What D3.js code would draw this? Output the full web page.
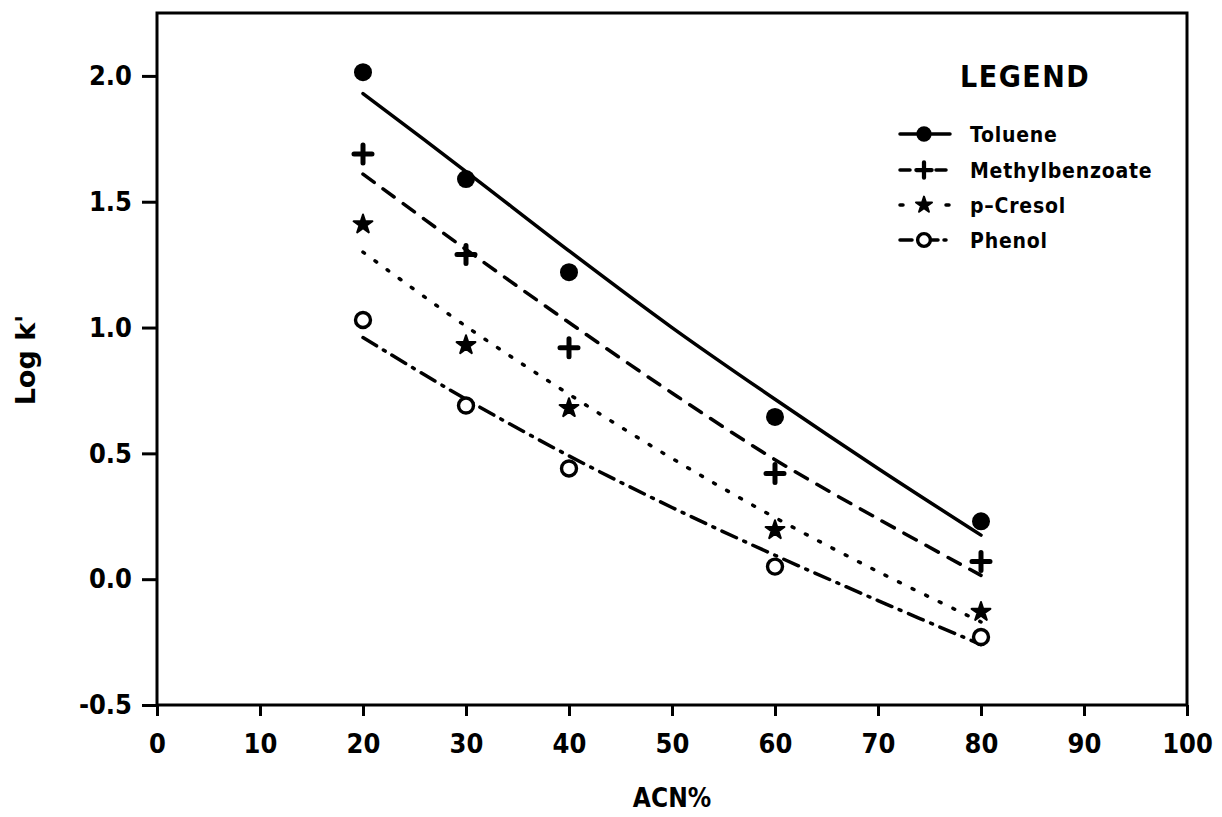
<!DOCTYPE html>
<html><head><meta charset="utf-8">
<script src="https://cdn.jsdelivr.net/npm/d3@7"></script>
<style>body{margin:0;background:#fff}</style></head>
<body><svg id="c" width="1222" height="817"></svg>
<script>
const acn = [20, 30, 40, 60, 80];
const toluene = [2.015, 1.59, 1.22, 0.645, 0.23];
const methylbenzoate = [1.69, 1.29, 0.92, 0.42, 0.07];
const pCresol = [1.41, 0.93, 0.68, 0.195, -0.13];
const phenol = [1.03, 0.69, 0.44, 0.05, -0.23];
const fitX = [20, 30, 40, 50, 60, 70, 80];
const tolueneFit = [1.93, 1.62, 1.305, 1.00, 0.715, 0.44, 0.175];
const methylFit = [1.61, 1.31, 1.02, 0.74, 0.475, 0.24, 0.015];
const cresolFit = [1.30, 1.005, 0.735, 0.48, 0.245, 0.03, -0.17];
const phenolFit = [0.96, 0.715, 0.49, 0.285, 0.095, -0.085, -0.26];
const xTicks = [0, 10, 20, 30, 40, 50, 60, 70, 80, 90, 100];
const yTicks = [-0.5, 0, 0.5, 1.0, 1.5, 2.0];
const seriesNames = ["Toluene", "Methylbenzoate", "p\u2013Cresol", "Phenol"];

const series = [
  {name: seriesNames[0], vals: toluene, fit: tolueneFit, marker: "dot", dash: null, legDash: null},
  {name: seriesNames[1], vals: methylbenzoate, fit: methylFit, marker: "plus", dash: "14,11", legDash: "10,8"},
  {name: seriesNames[2], vals: pCresol, fit: cresolFit, marker: "star", dash: "2,13", legDash: "3,20"},
  {name: seriesNames[3], vals: phenol, fit: phenolFit, marker: "ring", dash: "16,8,2,8", legDash: "12,6,2,6"}
];

const svg = d3.select("#c");
const L = 157, R = 1187, T = 13, B = 705;
const x = d3.scaleLinear().domain([0, 100]).range([L, R]);
const y = d3.scaleLinear().domain([-0.5, 2.25]).range([B, T]);
const font = "'DejaVu Sans Condensed','DejaVu Sans',sans-serif";

svg.append("rect").attr("x", L).attr("y", T).attr("width", R - L).attr("height", B - T)
  .attr("fill", "none").attr("stroke", "#000").attr("stroke-width", 3);

const gx = svg.append("g").attr("transform", `translate(0,${B})`)
  .call(d3.axisBottom(x).tickValues(xTicks).tickSize(11).tickPadding(18).tickFormat(d3.format("d")));
const gy = svg.append("g").attr("transform", `translate(${L},0)`)
  .call(d3.axisLeft(y).tickValues(yTicks).tickSize(15).tickPadding(10).tickFormat(d => d3.format(".1f")(d).replace("\u2212", "-")));
[gx, gy].forEach(g => {
  g.select(".domain").remove();
  g.selectAll(".tick line").attr("stroke", "#000").attr("stroke-width", 3);
  g.selectAll(".tick text").attr("font-family", font).attr("font-weight", "bold").attr("font-size", 27).attr("fill", "#000");
});

svg.append("text").attr("x", (L + R) / 2).attr("y", 807).attr("text-anchor", "middle")
  .attr("font-family", font).attr("font-weight", "bold").attr("font-size", 26).text("ACN%");
svg.append("text").attr("transform", "translate(35,360) rotate(-90)").attr("text-anchor", "middle")
  .attr("font-family", "'DejaVu Sans',sans-serif").attr("font-weight", "bold").attr("font-size", 27).text("Log k'");

const line = d3.line().x((d, i) => x(fitX[i])).y(d => y(d)).curve(d3.curveCatmullRom);

function drawMarker(g, type, cx, cy, s) {
  if (type === "dot") {
    g.append("circle").attr("cx", cx).attr("cy", cy).attr("r", 9 * s).attr("fill", "#000");
  } else if (type === "ring") {
    g.append("circle").attr("cx", cx).attr("cy", cy).attr("r", 7.5 * s).attr("fill", "#fff").attr("stroke", "#000").attr("stroke-width", 3.4);
  } else if (type === "plus") {
    const a = 9 * s;
    g.append("path").attr("d", `M${cx - a},${cy}H${cx + a}M${cx},${cy - a}V${cy + a}`)
      .attr("stroke", "#000").attr("stroke-width", 5 * s).attr("stroke-linecap", "round");
  } else if (type === "star") {
    g.append("path").attr("transform", `translate(${cx},${cy})`)
      .attr("d", d3.symbol().type(d3.symbolStar).size(110 * s * s)()).attr("fill", "#000")
      .attr("stroke", "#000").attr("stroke-width", 2).attr("stroke-linejoin", "round");
  }
}

const plot = svg.append("g");
series.forEach(sr => {
  plot.append("path").datum(sr.fit).attr("d", line).attr("fill", "none").attr("stroke", "#000")
    .attr("stroke-width", 3.5).attr("stroke-linecap", "round")
    .attr("stroke-dasharray", sr.dash);
  sr.vals.forEach((v, i) => drawMarker(plot, sr.marker, x(acn[i]), y(v), 1));
});

// legend
svg.append("text").attr("x", 960).attr("y", 87).attr("font-family", font).attr("font-weight", "bold")
  .attr("font-size", 30).attr("letter-spacing", 1.5).text("LEGEND");
const legY = [134, 170, 205, 240];
series.forEach((sr, i) => {
  const ly = legY[i];
  const g = svg.append("g");
  g.append("line").attr("x1", 900).attr("x2", 950).attr("y1", ly).attr("y2", ly)
    .attr("stroke", "#000").attr("stroke-width", 3.5).attr("stroke-linecap", "round")
    .attr("stroke-dasharray", sr.legDash);
  drawMarker(g, sr.marker, 924, ly, 0.85);
  g.append("text").attr("x", 970).attr("y", ly).attr("dy", "0.36em").attr("font-family", font)
    .attr("font-weight", "bold").attr("font-size", 21).attr("letter-spacing", 0.8).text(sr.name);
});
</script></body></html>
